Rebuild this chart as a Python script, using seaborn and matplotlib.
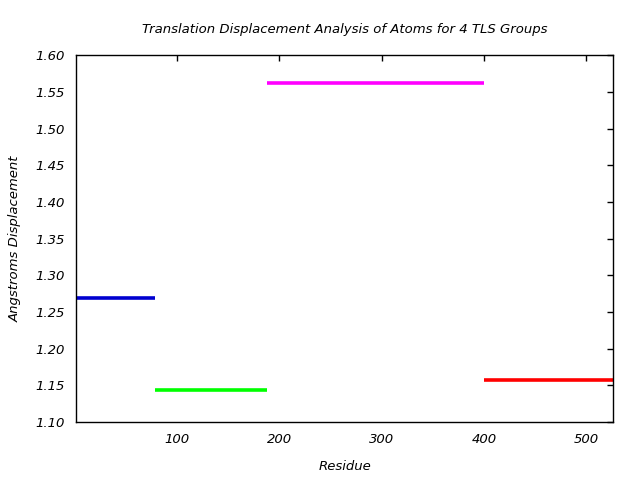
import matplotlib
matplotlib.use("Agg")
import matplotlib.pyplot as plt
import seaborn as sns
import pandas as pd
from matplotlib.ticker import FormatStrFormatter

groups = ["TLS 1", "TLS 2", "TLS 3", "TLS 4"]
seg_start = [1, 78, 188, 400]
seg_end = [78, 188, 400, 526]
displacement = [1.269, 1.144, 1.562, 1.157]
colors = ["#0000d0", "#00ff00", "#ff00ff", "#ff0000"]

rows = []
for g, s, e, v in zip(groups, seg_start, seg_end, displacement):
    rows.append({"group": g, "residue": s, "disp": v})
    rows.append({"group": g, "residue": e, "disp": v})
df = pd.DataFrame(rows)

sns.set_style("white")
plt.rcParams["font.family"] = ["DejaVu Sans"]
plt.rcParams["text.color"] = "black"
plt.rcParams["axes.labelcolor"] = "black"

fig = plt.figure(figsize=(6.4, 4.8), dpi=100)
ax = fig.add_axes([0.119, 0.121, 0.839, 0.764])
sns.lineplot(data=df, x="residue", y="disp", hue="group", palette=colors,
             estimator=None, sort=False, linewidth=2.6, legend=False, ax=ax)
for ln in ax.get_lines():
    ln.set_solid_capstyle("butt")

ax.set_xlim(1, 526.5)
ax.set_ylim(1.10, 1.60)
ax.set_xticks([100, 200, 300, 400, 500])
ax.set_yticks([1.10, 1.15, 1.20, 1.25, 1.30, 1.35, 1.40, 1.45, 1.50, 1.55, 1.60])
ax.yaxis.set_major_formatter(FormatStrFormatter("%.2f"))
ax.tick_params(direction="in", length=4, width=1, top=True, right=True,
               labelsize=9.5, colors="black", pad=8)
for lab in ax.get_xticklabels() + ax.get_yticklabels():
    lab.set_fontstyle("italic")
for sp in ax.spines.values():
    sp.set_color("black")
    sp.set_linewidth(1)

ax.set_xlabel("Residue", fontsize=9.5, fontstyle="italic", labelpad=10, color="black")
ax.set_ylabel("Angstroms Displacement", fontsize=9.5, fontstyle="italic", labelpad=10, color="black")
ax.set_title("Translation Displacement Analysis of Atoms for 4 TLS Groups",
             fontsize=9.5, fontstyle="italic", pad=16, color="black")

fig.savefig("out.png", dpi=100)
